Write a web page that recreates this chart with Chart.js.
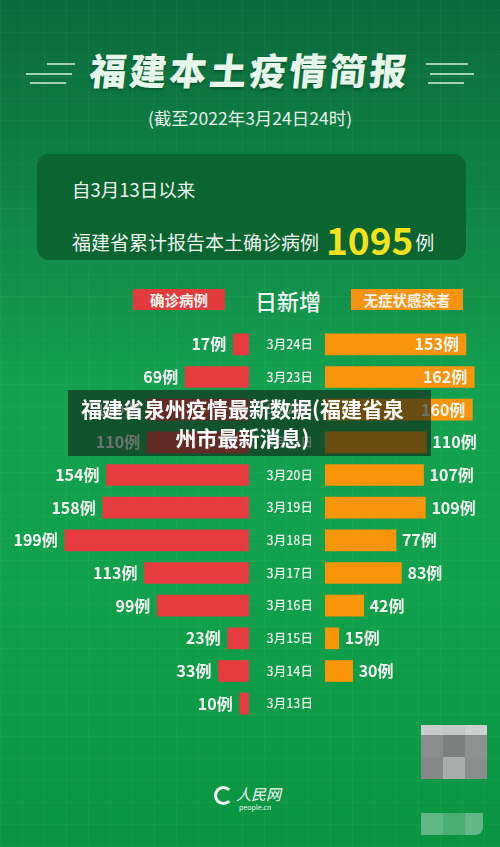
<!DOCTYPE html>
<html>
<head>
<meta charset="utf-8">
<script src="https://cdn.jsdelivr.net/npm/chart.js@4"></script>
<style>
  html, body { margin: 0; padding: 0; }
  body {
    width: 500px; height: 847px; position: relative; overflow: hidden;
    font-family: "Noto Sans CJK SC", "Noto Sans", sans-serif;
    background:
      repeating-linear-gradient(0deg, rgba(255,255,255,0.035) 0 1px, transparent 1px 22px),
      repeating-linear-gradient(90deg, rgba(255,255,255,0.035) 0 1px, transparent 1px 22px),
      linear-gradient(180deg, #0c6a3c 0%, #0f8246 22%, #13a050 45%, #11a04c 70%, #0a9441 100%);
  }
  .abs { position: absolute; }
  #title {
    left: 0; width: 500px; top: 42px; text-align: center;
    font-size: 37px; font-weight: 900; letter-spacing: 3px; color: #e6f6ea;
    transform: skewX(-6deg);
    text-shadow: 0 2px 3px rgba(0,60,25,0.5);
  }
  .deco { height: 2px; background: rgba(210,240,220,0.75); }
  #sub { left: 0; width: 500px; top: 105px; text-align: center; font-size: 17.5px; color: #e4f2e8; }
  #box {
    left: 37px; top: 154px; width: 429px; height: 106px; border-radius: 12px;
    background: #0a6531;
  }
  #box .l1 { position: absolute; left: 35px; top: 22px; font-size: 18.5px; color: #eef6f0; }
  #box .l2 { position: absolute; left: 35px; top: 58px; font-size: 19px; color: #eef6f0; white-space: nowrap; }
  #box .big { font-size: 37px; font-weight: 700; color: #f5e21c; vertical-align: -5px; margin-left: 7px; margin-right: 2px; }
  .tag { top: 289px; height: 21px; line-height: 21px; text-align: center; font-size: 14.5px; font-weight: 700; color: #fff3ee; }
  #head { left: 238px; width: 100px; top: 284px; text-align: center; font-size: 22px; color: #f2f8f3; font-weight: 500; }
  .chartbox { position: absolute; top: 328px; height: 392px; }
  #overlay {
    left: 68px; top: 390px; width: 363px; height: 66px; background: rgba(18,34,22,0.62);
    color: #fff; font-size: 21px; font-weight: 700; text-align: center; line-height: 29px;
    padding: 4px 14px 0 0; box-sizing: border-box; white-space: nowrap;
    z-index: 5;
  }
  #logo { left: 214px; top: 785px; color: #f4faf5; }
  #logo .ring { position: absolute; left: 0; top: 1px; width: 13px; height: 13px; border-radius: 50%; border: 3px solid #f4faf5; border-right-color: transparent; }
  #logo .cn { position: absolute; left: 22px; top: -2px; font-size: 15px; font-style: italic; font-family: "Noto Sans CJK SC"; white-space: nowrap; }
  #logo .en { position: absolute; left: 25px; top: 17px; font-size: 7px; white-space: nowrap; }
  .px { position: absolute; }
</style>
</head>
<body>
<div class="abs deco" style="left:47px;top:63px;width:28px"></div>
<div class="abs deco" style="left:26px;top:73px;width:46px"></div>
<div class="abs deco" style="left:30px;top:82px;width:36px"></div>
<div class="abs deco" style="left:426px;top:63px;width:42px"></div>
<div class="abs deco" style="left:430px;top:73px;width:44px"></div>
<div class="abs deco" style="left:428px;top:82px;width:36px"></div>
<div id="title" class="abs">福建本土疫情简报</div>
<div id="sub" class="abs">(截至2022年3月24日24时)</div>
<div id="box" class="abs">
  <div class="l1">自3月13日以来</div>
  <div class="l2">福建省累计报告本土确诊病例<span class="big">1095</span>例</div>
</div>
<div class="abs tag" style="left:133px;width:92px;background:#e23b3e">确诊病例</div>
<div id="head" class="abs">日新增</div>
<div class="abs tag" style="left:351px;width:112px;background:#f7930f">无症状感染者</div>

<div class="chartbox" style="left:0;width:249px"><canvas id="leftChart"></canvas></div>
<div class="chartbox" style="left:255px;width:245px"><canvas id="rightChart"></canvas></div>

<div id="overlay" class="abs">福建省泉州疫情最新数据(福建省泉<br>州市最新消息)</div>

<div id="logo" class="abs">
  <div class="ring"></div>
  <div class="cn">人民网</div>
  <div class="en">people.cn</div>
</div>

<div class="px" style="left:421px;top:725px;width:22px;height:10px;background:#c9cdcb"></div>
<div class="px" style="left:443px;top:725px;width:22px;height:10px;background:#c4c8c6"></div>
<div class="px" style="left:465px;top:725px;width:22px;height:10px;background:#cdd0ce"></div>
<div class="px" style="left:421px;top:735px;width:22px;height:22px;background:#8a8e8c"></div>
<div class="px" style="left:443px;top:735px;width:22px;height:22px;background:#7b7f7d"></div>
<div class="px" style="left:465px;top:735px;width:22px;height:22px;background:#8d918f"></div>
<div class="px" style="left:421px;top:757px;width:22px;height:22px;background:#858987"></div>
<div class="px" style="left:443px;top:757px;width:22px;height:22px;background:#a8acaa"></div>
<div class="px" style="left:465px;top:757px;width:22px;height:22px;background:#8a8e8c"></div>
<div class="px" style="left:421px;top:813px;width:22px;height:22px;background:#5fb883"></div>
<div class="px" style="left:443px;top:813px;width:22px;height:22px;background:#4aae72"></div>
<div class="px" style="left:465px;top:813px;width:18px;height:22px;background:#62b884;border-bottom-right-radius:8px"></div>

<script>
const dates = ['3月24日', '3月23日', '3月22日', '3月21日', '3月20日', '3月19日',
  '3月18日', '3月17日', '3月16日', '3月15日', '3月14日', '3月13日'];
const confirmed = [17, 69, 110, 110, 154, 158, 199, 113, 99, 23, 33, 10];
const asymptomatic = [153, 162, 160, 110, 107, 109, 77, 83, 42, 15, 30, null];

const labelFont = 'bold 16px "Noto Sans CJK SC", sans-serif';

// draws the "xx例" labels next to (or inside) the bars, plus the date column
const valueLabels = {
  id: 'valueLabels',
  afterDatasetsDraw(chart, args, opts) {
    const ctx = chart.ctx;
    const meta = chart.getDatasetMeta(0);
    const values = chart.data.datasets[0].data;
    const yScale = chart.scales.y;
    ctx.save();
    ctx.textBaseline = 'middle';
    if (opts.side === 'right') {
      ctx.font = '500 12.5px "Noto Sans CJK SC", sans-serif';
      ctx.fillStyle = '#e9f3ec';
      ctx.textAlign = 'right';
      chart.data.labels.forEach((lab, i) => {
        ctx.fillText(lab, chart.chartArea.left - 12, yScale.getPixelForValue(i));
      });
    }
    ctx.font = labelFont;
    ctx.fillStyle = '#f4f7f4';
    meta.data.forEach((bar, i) => {
      const v = values[i];
      if (v == null) return;
      const txt = v + '例';
      if (opts.side === 'left' || v >= 150) {
        ctx.textAlign = 'right';
        ctx.fillText(txt, bar.x - 7, bar.y);
      } else {
        ctx.textAlign = 'left';
        ctx.fillText(txt, bar.x + 6, bar.y);
      }
    });
    ctx.restore();
  }
};

new Chart(document.getElementById('leftChart'), {
  type: 'bar',
  data: {
    labels: dates,
    datasets: [{ label: '确诊病例', data: confirmed, backgroundColor: '#e63c40', barThickness: 21 }]
  },
  plugins: [valueLabels],
  options: {
    indexAxis: 'y',
    responsive: true,
    maintainAspectRatio: false,
    animation: false,
    layout: { padding: 0 },
    plugins: { legend: { display: false }, tooltip: { enabled: false }, valueLabels: { side: 'left' } },
    scales: {
      x: { display: false, reverse: true, min: 0, max: 269 },
      y: { display: false }
    }
  }
});

new Chart(document.getElementById('rightChart'), {
  type: 'bar',
  data: {
    labels: dates,
    datasets: [{ label: '无症状感染者', data: asymptomatic, backgroundColor: '#f9950a', barThickness: 21 }]
  },
  plugins: [valueLabels],
  options: {
    indexAxis: 'y',
    responsive: true,
    maintainAspectRatio: false,
    animation: false,
    layout: { padding: { left: 70 } },
    plugins: { legend: { display: false }, tooltip: { enabled: false }, valueLabels: { side: 'right' } },
    scales: {
      x: { display: false, min: 0, max: 190 },
      y: { display: false }
    }
  }
});
</script>
</body>
</html>
